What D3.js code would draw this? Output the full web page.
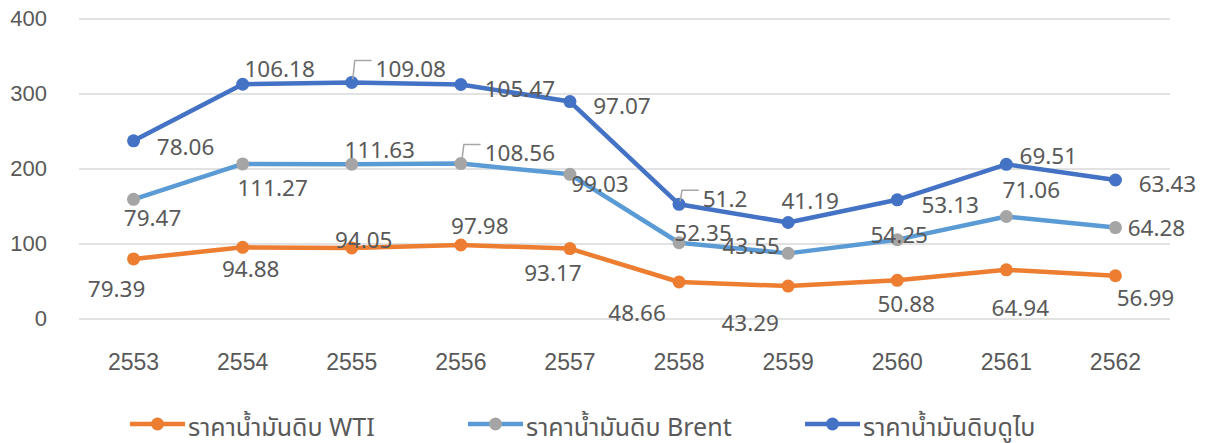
<!DOCTYPE html>
<html><head><meta charset="utf-8">
<script src="https://cdn.jsdelivr.net/npm/d3@7"></script>
<style>
html,body{margin:0;padding:0;background:#fff;}
svg{display:block;font-family:"Noto Sans","Noto Sans Thai","DejaVu Sans",sans-serif;}
</style></head>
<body>
<svg id="chart" width="1205" height="443"></svg>
<script>
const categories = ["2553","2554","2555","2556","2557","2558","2559","2560","2561","2562"];
const wti   = [79.39, 94.88, 94.05, 97.98, 93.17, 48.66, 43.29, 50.88, 64.94, 56.99];
const brent = [79.47, 111.27, 111.63, 108.56, 99.03, 52.35, 43.55, 54.25, 71.06, 64.28];
const dubai = [78.06, 106.18, 109.08, 105.47, 97.07, 51.2, 41.19, 53.13, 69.51, 63.43];
const yTicks = [0, 100, 200, 300, 400];
const seriesNames = ["ราคาน้ำมันดิบ WTI", "ราคาน้ำมันดิบ Brent", "ราคาน้ำมันดิบดูไบ"];

// label placement (pixel offsets from each point), kept apart from data
const labelOffsets = [
  [[-17,30],[8,21],[12,-8],[19,-20],[-17,24],[-42,30],[-38,36],[9,23],[14,38],[30,22]],
  [[19,18],[30,24],[28,-15],[59,-11],[30,9],[24,-10],[-37,-8],[2,-5],[25,-27],[41,0]],
  [[52,6],[37,-16],[59,-14],[59,4],[52,4],[46,-6],[22,-22],[53,5],[42,-9],[52,4]]
];
const leaders = [[], [3], [2,5]];

const lineColors = ["#ED7D31", "#5B9BD5", "#4472C4"];
const markerColors = ["#ED7D31", "#A5A5A5", "#4472C4"];
const textColor = "#595959";

const svg = d3.select("#chart");
const x = d3.scaleBand().domain(categories).range([79, 1170]).padding(0);
const y = d3.scaleLinear().domain([0, 400]).range([318.5, 18.5]);
const cx = c => x(c) + x.bandwidth() / 2;

// gridlines + y axis
const yAxis = d3.axisLeft(y).tickValues(yTicks).tickSize(-(1170 - 79)).tickPadding(32);
const gy = svg.append("g").attr("transform", "translate(79,0)").call(yAxis);
gy.select(".domain").remove();
gy.selectAll(".tick line").attr("stroke", "#D9D9D9").attr("stroke-width", 1.5);
gy.selectAll(".tick text").attr("fill", textColor).attr("font-size", 22).attr("text-anchor", "end");

// x axis labels
const xAxis = d3.axisBottom(x).tickSize(0).tickPadding(0);
const gx = svg.append("g").attr("transform", "translate(0,362)").call(xAxis);
gx.select(".domain").remove();
gx.selectAll(".tick text").attr("fill", textColor).attr("font-size", 23)
  .attr("dy", null).attr("dominant-baseline", "central");

// stacked data
const rows = categories.map((c, i) => ({cat: c, s0: wti[i], s1: brent[i], s2: dubai[i]}));
const stack = d3.stack().keys(["s0","s1","s2"])(rows);
const raw = [wti, brent, dubai];

const line = d3.line().x(d => cx(d.data.cat)).y(d => y(d[1]));

stack.forEach((layer, si) => {
  const g = svg.append("g");
  g.append("path").datum(layer).attr("d", line)
    .attr("fill", "none").attr("stroke", lineColors[si]).attr("stroke-width", 4.5)
    .attr("stroke-linejoin", "round").attr("stroke-linecap", "round");
  g.selectAll("circle").data(layer).join("circle")
    .attr("cx", d => cx(d.data.cat)).attr("cy", d => y(d[1])).attr("r", 6.5)
    .attr("fill", markerColors[si]);
});

// labels
stack.forEach((layer, si) => {
  const g = svg.append("g");
  layer.forEach((d, i) => {
    const px = cx(d.data.cat), py = y(d[1]);
    const [dx, dy] = labelOffsets[si][i];
    const txt = g.append("text").attr("x", px + dx).attr("y", py + dy)
      .attr("text-anchor", "middle").attr("dominant-baseline", "central")
      .attr("fill", textColor).attr("font-size", 22.5).text(String(raw[si][i]));
    if (leaders[si].includes(i)) {
      const bb = txt.node().getBBox();
      const ly = py + dy - 3;
      g.append("path")
        .attr("d", `M${px+1},${py-3}L${px+3},${ly - 5}L${bb.x - 4},${ly - 5}`)
        .attr("fill", "none").attr("stroke", "#A6A6A6").attr("stroke-width", 1.5);
    }
  });
});

// legend
const legendX = [130, 468, 805];
const lg = svg.append("g");
seriesNames.forEach((name, si) => {
  const lx = legendX[si], ly = 424;
  lg.append("line").attr("x1", lx).attr("x2", lx + 55).attr("y1", ly).attr("y2", ly)
    .attr("stroke", lineColors[si]).attr("stroke-width", 4.5);
  lg.append("circle").attr("cx", lx + 27.5).attr("cy", ly).attr("r", 6.5).attr("fill", markerColors[si]);
  lg.append("text").attr("x", lx + 58).attr("y", ly + 2).attr("dominant-baseline", "central")
    .attr("fill", textColor).attr("font-size", 25).text(name);
});
</script>
</body></html>
